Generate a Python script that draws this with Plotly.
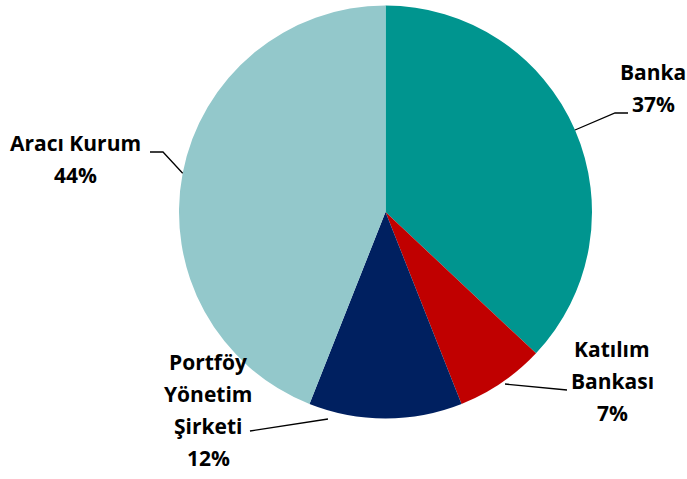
import math
import plotly.graph_objects as go

# ---- data ----
categories = ["Banka", "Katılım<br>Bankası", "Portföy<br>Yönetim<br>Şirketi", "Aracı Kurum"]
shares = [37, 7, 12, 44]
colors = ["#00958F", "#C00000", "#002060", "#93C8CB"]

W, H = 687, 479
CX, CY, R = 385.5, 212, 206.5

# label placement (pixel styling): centre x, y of first line, line spacing
label_pos = [(653, 72), (612, 349), (208, 362), (75, 143)]
LINE_STEP = 32
# leader lines: (elbow, end) in pixels; start is computed from slice angle
leaders = [
    [(615, 113), (628, 113)],
    [(567, 390)],
    [(250, 431)],
    [(163, 152), (150, 152)],
]
start_override = [None, (505, 384), (328, 419), None]

fig = go.Figure(go.Pie(
    labels=[c.replace("<br>", " ") for c in categories],
    values=shares,
    marker=dict(colors=colors, line=dict(width=0)),
    sort=False,
    direction="clockwise",
    rotation=0,
    textinfo="none",
    hoverinfo="label+percent",
    domain=dict(x=[(CX - R) / W, (CX + R) / W], y=[1 - (CY + R) / H, 1 - (CY - R) / H]),
    showlegend=False,
))

def px(x, y):
    return x / W, 1 - y / H

total = sum(shares)
cum = 0
shapes = []
annotations = []
for i, (cat, v) in enumerate(zip(categories, shares)):
    mid = (cum + v / 2) / total * 2 * math.pi
    cum += v
    if start_override[i] is not None:
        sx, sy = start_override[i]
    else:
        sx = CX + R * math.sin(mid)
        sy = CY - R * math.cos(mid)
    pts = [(sx, sy)] + leaders[i]
    path = "M " + " L ".join(f"{px(x, y)[0]:.5f},{px(x, y)[1]:.5f}" for x, y in pts)
    shapes.append(dict(type="path", xref="paper", yref="paper", path=path,
                       line=dict(color="black", width=1.3)))
    lines = cat.split("<br>") + [f"{round(v / total * 100)}%"]
    lx0, ly0 = label_pos[i]
    for j, t in enumerate(lines):
        lx, ly = px(lx0, ly0 + j * LINE_STEP)
        annotations.append(dict(
            x=lx, y=ly, xref="paper", yref="paper", showarrow=False,
            text=f"<b>{t}</b>",
            font=dict(family="Open Sans, sans-serif", size=21, color="black"),
            align="center", xanchor="center", yanchor="middle",
        ))

fig.update_layout(
    width=W, height=H,
    margin=dict(l=0, r=0, t=0, b=0),
    paper_bgcolor="white", plot_bgcolor="white",
    shapes=shapes, annotations=annotations,
)
fig.write_html("out.html", config={"displayModeBar": False},
               post_script="document.body.style.margin='0';")
